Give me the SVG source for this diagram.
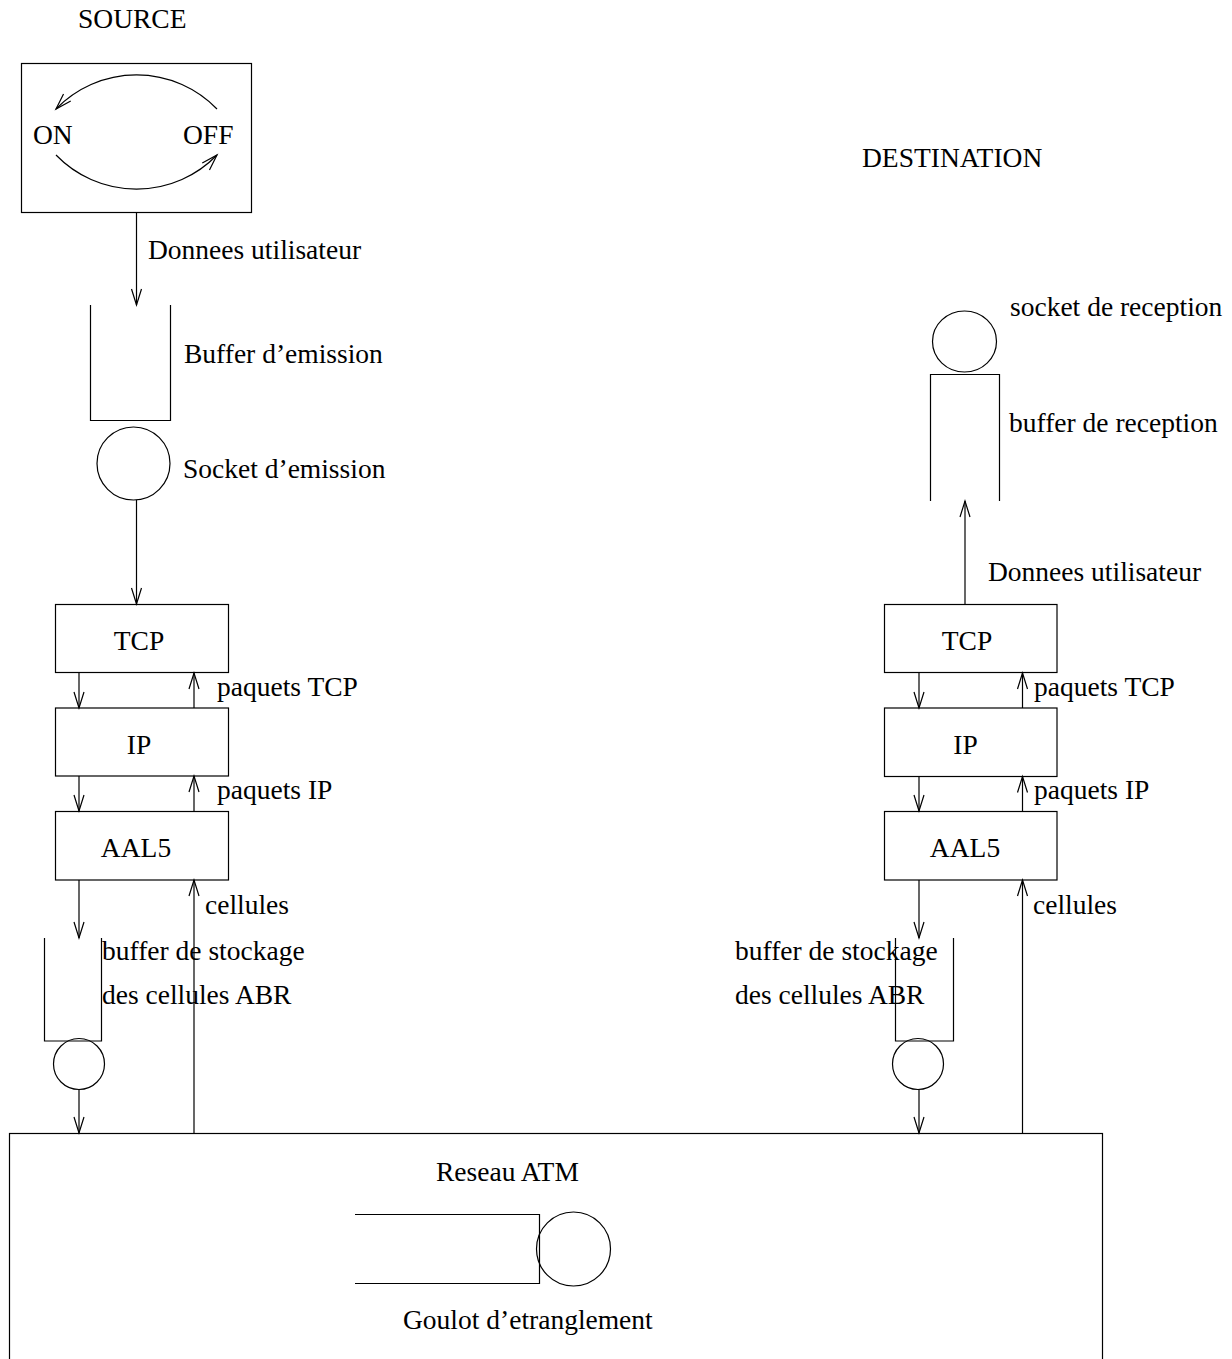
<svg xmlns="http://www.w3.org/2000/svg" width="1232" height="1359" viewBox="0 0 1232 1359">
  <style>
    .shape { fill: none; stroke: #000; stroke-width: 1.2; }
    .wire { fill: none; stroke: #000; stroke-width: 1.2; }
    text { font-family: "Liberation Serif", "Times New Roman", serif; font-size: 27.5px; fill: #000; }
    .mid { text-anchor: middle; }
  </style>
  <defs>
    <marker id="vhead" markerUnits="userSpaceOnUse" markerWidth="20" markerHeight="14" viewBox="-17 -7 19 14" refX="0" refY="0" orient="auto">
      <path d="M-16,-5 L0,0 L-16,5" fill="none" stroke="#000" stroke-width="1.2"/>
    </marker>
  </defs>

  <rect width="1232" height="1359" fill="#fff"/>

  <!-- titles -->
  <text id="title-source" x="78" y="28">SOURCE</text>
  <text id="title-destination" x="862" y="167">DESTINATION</text>

  <!-- ON/OFF traffic source -->
  <g id="source">
    <rect class="shape" x="21.5" y="63.5" width="230" height="149"/>
    <path class="wire" d="M217,109 A112,112 0 0 0 56,109" marker-end="url(#vhead)"/>
    <path class="wire" d="M56,155 A112,112 0 0 0 217,155" marker-end="url(#vhead)"/>
    <text x="33" y="144">ON</text>
    <text x="183" y="144">OFF</text>
  </g>

  <!-- emission buffer -->
  <g id="buffer-emission">
    <path class="shape" d="M90.5,305 V420.5 H170.5 V305"/>
    <text x="184" y="363">Buffer d’emission</text>
  </g>

  <!-- emission socket -->
  <g id="socket-emission">
    <circle class="shape" cx="133.5" cy="463.5" r="36.5"/>
    <text x="183" y="478">Socket d’emission</text>
  </g>

  <!-- source protocol stack -->
  <g id="src-tcp">
    <rect class="shape" x="55.5" y="604.5" width="173" height="68"/>
    <text class="mid" x="139" y="650">TCP</text>
  </g>
  <g id="src-ip">
    <rect class="shape" x="55.5" y="708" width="173" height="68"/>
    <text class="mid" x="139" y="754">IP</text>
  </g>
  <g id="src-aal5">
    <rect class="shape" x="55.5" y="811.5" width="173" height="68.5"/>
    <text class="mid" x="136" y="857">AAL5</text>
  </g>

  <!-- source ABR cell buffer and server -->
  <g id="src-abr-buffer">
    <path class="shape" d="M44.5,938 V1041 H101.5 V938"/>
    <text x="102" y="960">buffer de stockage</text>
    <text x="102" y="1004">des cellules ABR</text>
  </g>
  <g id="src-abr-socket">
    <circle class="shape" cx="79" cy="1064" r="25.5"/>
  </g>

  <!-- destination reception socket and buffer -->
  <g id="socket-reception">
    <ellipse class="shape" cx="964.5" cy="341.5" rx="32" ry="30.5"/>
    <text x="1010" y="316">socket de reception</text>
  </g>
  <g id="buffer-reception">
    <path class="shape" d="M930.5,501 V374.5 H999.5 V501"/>
    <text x="1009" y="432">buffer de reception</text>
  </g>

  <!-- destination protocol stack -->
  <g id="dst-tcp">
    <rect class="shape" x="884.5" y="604.5" width="172.5" height="68"/>
    <text class="mid" x="967" y="650">TCP</text>
  </g>
  <g id="dst-ip">
    <rect class="shape" x="884.5" y="708" width="172.5" height="68.5"/>
    <text class="mid" x="965.5" y="754">IP</text>
  </g>
  <g id="dst-aal5">
    <rect class="shape" x="884.5" y="811.5" width="172.5" height="68.5"/>
    <text class="mid" x="965" y="857">AAL5</text>
  </g>

  <!-- destination ABR cell buffer and server -->
  <g id="dst-abr-buffer">
    <path class="shape" d="M895.5,938 V1041 H953.5 V938"/>
    <text x="735" y="960">buffer de stockage</text>
    <text x="735" y="1004">des cellules ABR</text>
  </g>
  <g id="dst-abr-socket">
    <circle class="shape" cx="918" cy="1064" r="25.5"/>
  </g>

  <!-- ATM network with its bottleneck queue -->
  <g id="atm-network">
    <rect class="shape" x="9.5" y="1133.5" width="1093" height="260"/>
    <text x="436" y="1181">Reseau ATM</text>
    <path class="shape" d="M355,1214.5 H539.5 V1283.5 H355"/>
    <circle class="shape" cx="573.5" cy="1249" r="37"/>
    <text x="403" y="1329">Goulot d’etranglement</text>
  </g>

  <!-- connectors -->
  <g id="connectors">
    <line class="wire" x1="136.5" y1="213" x2="136.5" y2="305" marker-end="url(#vhead)"/>
    <text x="148" y="259">Donnees utilisateur</text>
    <line class="wire" x1="136.5" y1="500" x2="136.5" y2="604" marker-end="url(#vhead)"/>

    <line class="wire" x1="79" y1="673" x2="79" y2="708" marker-end="url(#vhead)"/>
    <line class="wire" x1="194" y1="708" x2="194" y2="673" marker-end="url(#vhead)"/>
    <text x="217" y="696">paquets TCP</text>
    <line class="wire" x1="79" y1="776" x2="79" y2="811" marker-end="url(#vhead)"/>
    <line class="wire" x1="194" y1="811" x2="194" y2="776" marker-end="url(#vhead)"/>
    <text x="217" y="799">paquets IP</text>
    <line class="wire" x1="79" y1="880" x2="79" y2="938" marker-end="url(#vhead)"/>
    <line class="wire" x1="79" y1="1089.5" x2="79" y2="1133" marker-end="url(#vhead)"/>
    <line class="wire" x1="194" y1="1133" x2="194" y2="880" marker-end="url(#vhead)"/>
    <text x="205" y="914">cellules</text>

    <line class="wire" x1="965" y1="604" x2="965" y2="501" marker-end="url(#vhead)"/>
    <text x="988" y="581">Donnees utilisateur</text>
    <line class="wire" x1="919" y1="673" x2="919" y2="708" marker-end="url(#vhead)"/>
    <line class="wire" x1="1022.5" y1="708" x2="1022.5" y2="673" marker-end="url(#vhead)"/>
    <text x="1034" y="696">paquets TCP</text>
    <line class="wire" x1="919" y1="776.5" x2="919" y2="811" marker-end="url(#vhead)"/>
    <line class="wire" x1="1022.5" y1="811" x2="1022.5" y2="776.5" marker-end="url(#vhead)"/>
    <text x="1034" y="799">paquets IP</text>
    <line class="wire" x1="919" y1="880" x2="919" y2="938" marker-end="url(#vhead)"/>
    <line class="wire" x1="919" y1="1089.5" x2="919" y2="1133" marker-end="url(#vhead)"/>
    <line class="wire" x1="1022.5" y1="1133" x2="1022.5" y2="880" marker-end="url(#vhead)"/>
    <text x="1033" y="914">cellules</text>
  </g>
</svg>
